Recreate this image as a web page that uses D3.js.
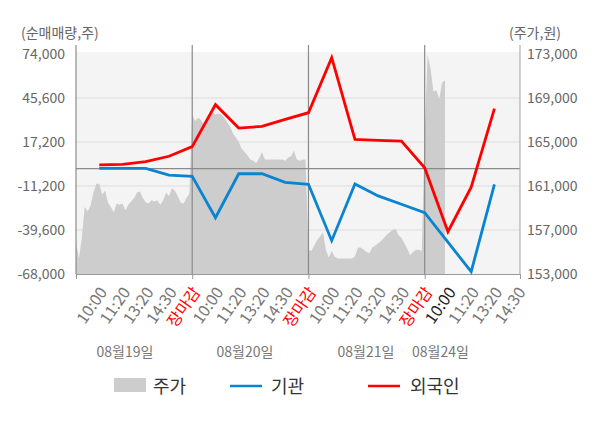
<!DOCTYPE html>
<html>
<head>
<meta charset="utf-8">
<script src="https://cdn.jsdelivr.net/npm/d3@7"></script>
<style>
	body { margin: 0; background: #fff; }
	svg text { font-family: "Noto Sans CJK KR", "Noto Sans", sans-serif; }
</style>
</head>
<body>
<div id="chart"></div>
<script>
// x categories (time slots), 4 trading days
const categories = [
	"10:00", "11:20", "13:20", "14:30", "장마감",
	"10:00", "11:20", "13:20", "14:30", "장마감",
	"10:00", "11:20", "13:20", "14:30", "장마감",
	"10:00", "11:20", "13:20", "14:30"
];
const dateLabels = ["08월19일", "08월20일", "08월21일", "08월24일"];

// net buying (shares)
const foreignNet = [2500, 2800, 4500, 8000, 14200, 41300, 26200, 27300, 31800, 36100,
	71600, 18900, 18300, 17800, 600, -40700, -12000, 38700];
const instNet = [200, 200, 200, -4200, -5000, -31700, -3300, -3300, -8800, -10100,
	-46500, -9900, -17600, -23000, -28400, -47500, -66500, -10100];

// intraday price (won), 40 samples per day
const price0819 = [155900, 154400, 156300, 159100, 158700, 159200, 160400, 161200, 161200, 160200,
	160600, 159500, 159100, 158600, 159400, 159300, 159400, 158800, 159300, 159600,
	159900, 160400, 160500, 159900, 159500, 159400, 159700, 159600, 159700, 159300,
	159700, 160400, 160100, 160800, 160600, 160100, 159500, 159400, 159900, 160300];
const price0820 = [167400, 166900, 167200, 167000, 166600, 166900, 167400, 167700, 167500, 167600,
	167500, 167200, 166800, 166400, 165800, 165400, 165000, 164400, 164100, 163800,
	163400, 163300, 163100, 163500, 164100, 163400, 163400, 163400, 163400, 163400,
	163400, 163400, 163300, 163600, 163700, 164200, 163400, 163300, 163400, 163400];
const price0821 = [155200, 155100, 155600, 156100, 156400, 156800, 155200, 154500, 155100, 154600,
	154400, 154400, 154400, 154400, 154400, 154400, 154600, 155400, 155400, 155200,
	155000, 154900, 155400, 155600, 155800, 156000, 156300, 156600, 156800, 157000,
	157100, 156500, 156300, 155800, 155300, 154700, 155000, 155200, 155200, 155100];
const price0824 = [165700, 172900, 171700, 169600, 169700, 168900, 170400, 170600];

const leftTicks = [-68000, -39600, -11200, 17200, 45600, 74000];
const rightTicks = [153000, 157000, 161000, 165000, 169000, 173000];

function builder() {
	const w = 600;
	const h = 428;
	const left = 76, right = 520, top = 54, bottom = 274;

	const svg = d3.select("#chart")
		.append("svg")
		.attr("width", w)
		.attr("height", h);

	const x = d3.scaleLinear().domain([-1, 18.1]).range([left, right]);
	const yL = d3.scaleLinear().domain([-68000, 74000]).range([bottom, top]);
	const yR = d3.scaleLinear().domain([153000, 173000]).range([bottom, top]);

	// plot background
	svg.append("rect")
		.attr("x", left).attr("y", top - 2)
		.attr("width", right - left).attr("height", bottom - top + 2)
		.attr("fill", "#f4f4f4");

	// grid lines
	svg.selectAll(".grid")
		.data(leftTicks.slice(1, -1))
		.enter().append("line")
		.attr("x1", left).attr("x2", right)
		.attr("y1", (d) => yL(d)).attr("y2", (d) => yL(d))
		.attr("stroke", "#dcdcdc").attr("stroke-width", 1);

	// price area, one sample every 1/8 slot
	const priceData = [];
	[price0819, price0820, price0821, price0824].forEach((day, d) => {
		day.forEach((p, k) => priceData.push({ pos: 5 * d - 1 + k / 8, p: p }));
	});
	svg.append("path")
		.datum(priceData)
		.attr("fill", "#cdcdcd")
		.attr("d", d3.area()
			.x((d) => x(d.pos))
			.y0(bottom)
			.y1((d) => yR(d.p)));

	// zero line
	svg.append("line")
		.attr("x1", left).attr("x2", right)
		.attr("y1", yL(0)).attr("y2", yL(0))
		.attr("stroke", "#8a8a8a").attr("stroke-width", 1.2);

	// day separators
	svg.selectAll(".sep")
		.data([4, 9, 14])
		.enter().append("line")
		.attr("x1", (d) => x(d)).attr("x2", (d) => x(d))
		.attr("y1", 45).attr("y2", bottom)
		.attr("stroke", "#8a8a8a").attr("stroke-width", 1.2);

	// axis lines
	svg.append("line").attr("x1", left).attr("x2", left).attr("y1", 45).attr("y2", bottom)
		.attr("stroke", "#8a8a8a").attr("stroke-width", 1.2);
	svg.append("line").attr("x1", right).attr("x2", right).attr("y1", 45).attr("y2", bottom)
		.attr("stroke", "#b0b0b0").attr("stroke-width", 1.2);

	const xAxis = svg.append("g")
		.attr("transform", `translate(0,${bottom})`)
		.call(d3.axisBottom(x).tickValues([-1, 4, 9, 14, 18.1]).tickFormat("").tickSize(5).tickSizeOuter(0));
	xAxis.select(".domain").attr("stroke", "#999").attr("stroke-width", 1.2);
	xAxis.selectAll(".tick line").attr("stroke", "#999");

	// net buying lines
	const line = d3.line()
		.x((d, i) => x(i))
		.y((d) => yL(d));
	svg.append("path").datum(instNet)
		.attr("fill", "none").attr("stroke", "#0a84d0").attr("stroke-width", 2.8)
		.attr("d", line);
	svg.append("path").datum(foreignNet)
		.attr("fill", "none").attr("stroke", "#ff0000").attr("stroke-width", 2.8)
		.attr("d", line);

	// y axes labels
	const fmt = (d) => d.toLocaleString("en-US");
	const ax1 = svg.append("g")
		.attr("transform", `translate(${left},0)`)
		.call(d3.axisLeft(yL).tickValues(leftTicks).tickFormat(fmt).tickSize(0).tickPadding(11));
	const ax2 = svg.append("g")
		.attr("transform", `translate(${right},0)`)
		.call(d3.axisRight(yR).tickValues(rightTicks).tickFormat(fmt).tickSize(0).tickPadding(7));
	[ax1, ax2].forEach((a) => {
		a.select(".domain").remove();
		a.selectAll("text").attr("fill", "#666").style("font-size", "14px");
	});

	svg.append("text").attr("x", 21).attr("y", 38)
		.attr("fill", "#666").style("font-size", "14px").text("(순매매량,주)");
	svg.append("text").attr("x", 509).attr("y", 38)
		.attr("fill", "#666").style("font-size", "14px").text("(주가,원)");

	// category labels
	svg.selectAll(".cat")
		.data(categories)
		.enter().append("text")
		.attr("transform", (d, i) => `translate(${x(i) + 4},289) rotate(-55)`)
		.attr("text-anchor", "end")
		.attr("dy", "0.35em")
		.style("font-size", "16px")
		.attr("fill", (d, i) => d === "장마감" ? "#ff0000" : (i === 15 ? "#222" : "#777"))
		.text((d) => d);

	// date labels
	const datePos = [125, 245, 366, 440.5];
	svg.selectAll(".date")
		.data(dateLabels)
		.enter().append("text")
		.attr("x", (d, i) => datePos[i]).attr("y", 357)
		.attr("text-anchor", "middle")
		.attr("fill", "#777")
		.style("font-size", "14px")
		.text((d) => d);

	// legend
	const lg = svg.append("g");
	lg.append("rect").attr("x", 114).attr("y", 378).attr("width", 32).attr("height", 14).attr("fill", "#cdcdcd");
	lg.append("line").attr("x1", 230).attr("x2", 262).attr("y1", 386).attr("y2", 386)
		.attr("stroke", "#0a84d0").attr("stroke-width", 2.5);
	lg.append("line").attr("x1", 368).attr("x2", 400).attr("y1", 386).attr("y2", 386)
		.attr("stroke", "#ff0000").attr("stroke-width", 2.5);
	lg.selectAll("text")
		.data([["주가", 153], ["기관", 271], ["외국인", 410]])
		.enter().append("text")
		.attr("x", (d) => d[1]).attr("y", 393)
		.attr("fill", "#333")
		.style("font-size", "18px")
		.text((d) => d[0]);
}

builder();
</script>
</body>
</html>
